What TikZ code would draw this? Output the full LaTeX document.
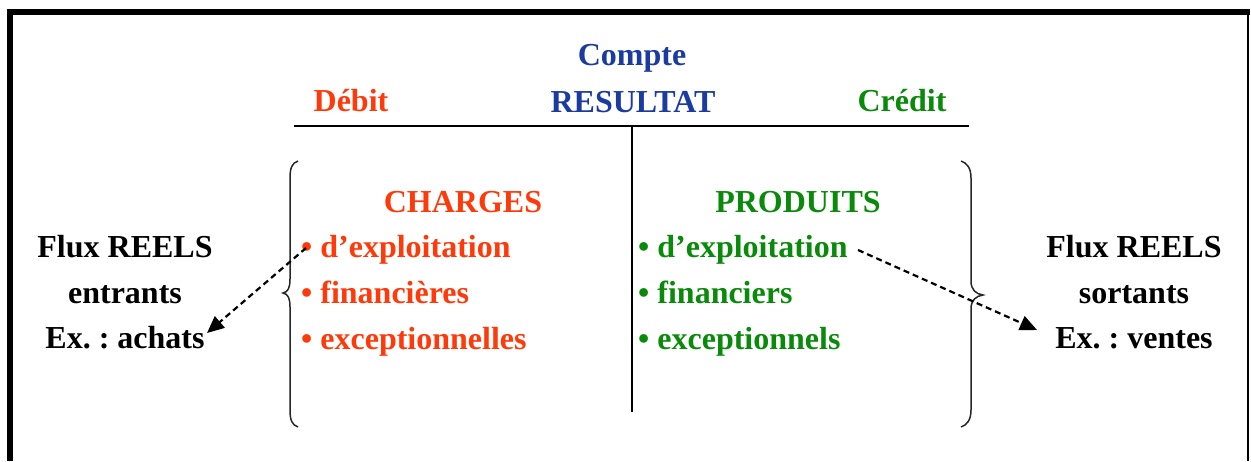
\documentclass[tikz,border=0pt]{standalone}
\usepackage{fontspec}
\setmainfont{Liberation Serif}
\usetikzlibrary{arrows.meta}
\frenchspacing
\definecolor{cred}{HTML}{FF3A0A}
\definecolor{cgreen}{HTML}{0A8A0A}
\definecolor{cblue}{HTML}{1A3BA0}
\tikzset{
  txt/.style={inner sep=0pt, anchor=base, font=\fontsize{32}{38}\selectfont\bfseries},
  lft/.style={txt, anchor=base west},
  flow/.style={dash pattern=on 6pt off 4pt, line width=2.2pt, -{Triangle[length=17pt,width=15pt]}},
  rule/.style={line width=2pt},
  brace/.style={line width=1.5pt, black!85},
}
\begin{document}
\begin{tikzpicture}[x=1pt,y=-1pt]
\useasboundingbox (0,0) rectangle (1251,461);
% frame
\draw[line width=6pt] (10,461) -- (10,12) -- (1250,12);
\draw[line width=2pt] (1248,12) -- (1248,461);
% titles
\node[txt, text=cblue] (compte) at (632,65) {Compte};
\node[txt, text=cblue] (resultat) at (633,112) {RESULTAT};
\node[txt, text=cred] (debit) at (351,111) {Débit};
\node[txt, text=cgreen] (credit) at (902,111) {Crédit};
% T account
\coordinate (hl) at (294,126);
\coordinate (hr) at (969,126);
\coordinate (vt) at (632,126);
\coordinate (vb) at (632,412);
\draw[rule] (hl) -- (hr);
\draw[rule] (vt) -- (vb);
% charges
\node[txt, text=cred] (charges) at (463,212) {CHARGES};
\node[lft, text=cred] (c1) at (301,257) {• d’exploitation};
\node[lft, text=cred] (c2) at (301,303) {• financières};
\node[lft, text=cred] (c3) at (301,349) {• exceptionnelles};
% produits
\node[txt, text=cgreen] (produits) at (798,212) {PRODUITS};
\node[lft, text=cgreen] (p1) at (638,257) {• d’exploitation};
\node[lft, text=cgreen] (p2) at (638,303) {• financiers};
\node[lft, text=cgreen] (p3) at (638,349) {• exceptionnels};
% flux
\node[txt] (fl1) at (125,257) {Flux REELS};
\node[txt] (fl2) at (125,303) {entrants};
\node[txt] (fl3) at (125,348) {Ex. : achats};
\node[txt] (fr1) at (1134,257) {Flux REELS};
\node[txt] (fr2) at (1134,303) {sortants};
\node[txt] (fr3) at (1134,348) {Ex. : ventes};
% braces
\draw[brace] (298,161) .. controls (292,163) and (290,168) .. (290,178) -- (290,279)
  .. controls (290,288) and (288,292) .. (283,293)
  .. controls (288,294) and (290,298) .. (290,307) -- (290,410)
  .. controls (290,420) and (292,425) .. (298,427);
\draw[brace] (961,161) .. controls (967,163) and (971,168) .. (971,178) -- (971,281)
  .. controls (971,290) and (976,294) .. (983,295)
  .. controls (976,296) and (971,300) .. (971,309) -- (971,410)
  .. controls (971,420) and (967,425) .. (961,427);
% flows
\coordinate (s1) at (306,248);
\coordinate (e1) at (207,333);
\coordinate (s2) at (858,250);
\coordinate (e2) at (1037,330);
\draw[flow] (s1) -- (e1);
\draw[flow] (s2) -- (e2);
\end{tikzpicture}
\end{document}
